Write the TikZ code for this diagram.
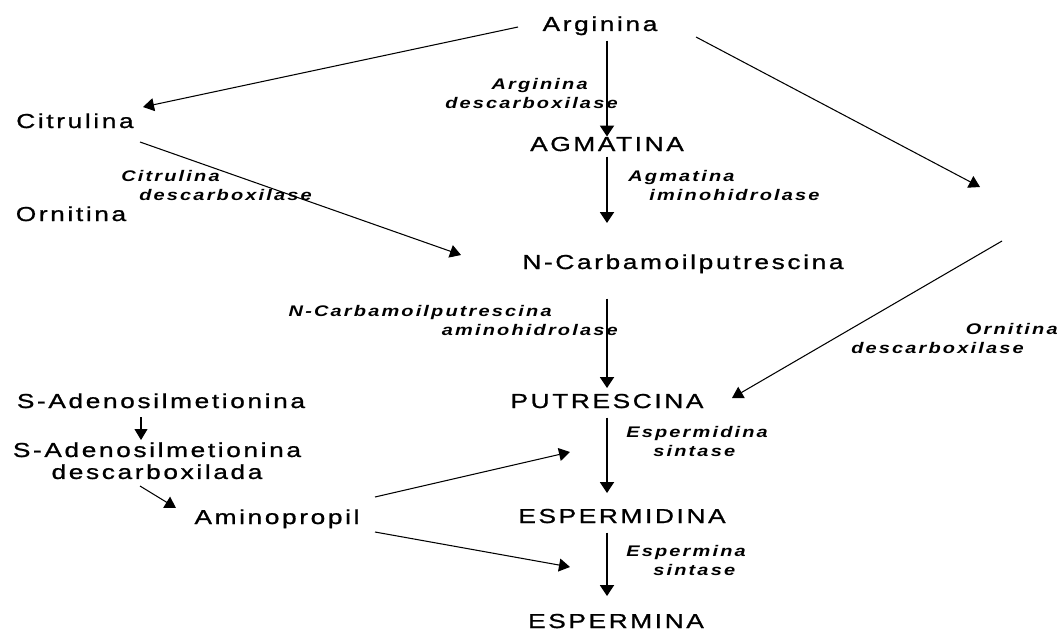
\documentclass[tikz,border=0pt]{standalone}
\usepackage{fontspec}
\usepackage{tikz}
\usetikzlibrary{arrows.meta}
\newfontfamily\metfont[FakeStretch=1.3, FakeBold=1, LetterSpace=13]{Liberation Sans}
\newfontfamily\enzfont[FakeStretch=1.3, LetterSpace=14]{Liberation Sans}
\tikzset{
  metab/.style={inner sep=0pt, anchor=base,
    font=\metfont\fontsize{11.5}{12.5}\selectfont},
  enzyme/.style={inner sep=0pt,
    font=\enzfont\bfseries\itshape\fontsize{8.75}{11}\selectfont},
  mainarrow/.style={-{Triangle[length=0.22cm,width=0.28cm]}, line width=1.1pt},
  sidearrow/.style={-{Triangle[length=0.22cm,width=0.26cm]}, line width=0.6pt}
}

\begin{document}
\begin{tikzpicture}[x=0.02cm, y=-0.02cm]

  \useasboundingbox (0,0) rectangle (1064,632);

  % ── Main column: Arginina down to Espermina ──────────────────────────────
  \node[metab] (arg)   at (600,31)  {Arginina};
  \node[metab] (agm)   at (607,151) {AGMATINA};
  \node[metab] (ncarb) at (683,269) {N-Carbamoilputrescina};
  \node[metab] (put)   at (607,408) {PUTRESCINA};
  \node[metab] (espd)  at (622,523) {ESPERMIDINA};
  \node[metab] (espm)  at (616,628) {ESPERMINA};

  % ── Left column ──────────────────────────────────────────────────────────
  \node[metab] (cit)  at (75,128)  {Citrulina};
  \node[metab] (orn)  at (71,221)  {Ornitina};
  \node[metab] (sam)  at (161,408) {S-Adenosilmetionina};
  \node[metab, anchor=north, align=center] (samd) at (157,442)
       {S-Adenosilmetionina\\descarboxilada};
  \node[metab] (amp)  at (277,524) {Aminopropil};

  % ── Enzyme labels ────────────────────────────────────────────────────────
  \node[enzyme, anchor=north east, align=right] (argdc) at (618,78)
       {Arginina\hspace*{0.6cm}\\descarboxilase};
  \node[enzyme, anchor=north west, align=left] (citdc) at (121,170)
       {Citrulina\\\hspace*{0.36cm}descarboxilase};
  \node[enzyme, anchor=north west, align=left] (agmih) at (628,170)
       {Agmatina\\\hspace*{0.42cm}iminohidrolase};
  \node[enzyme, anchor=north east, align=right] (ncarbah) at (618,305)
       {N-Carbamoilputrescina\hspace*{1.32cm}\\aminohidrolase};
  \node[enzyme, anchor=north east, align=right] (orndc) at (1058,323)
       {Ornitina\\descarboxilase\hspace*{0.68cm}};
  \node[enzyme, anchor=north west, align=left] (espdsyn) at (626,426)
       {Espermidina\\\hspace*{0.54cm}sintase};
  \node[enzyme, anchor=north west, align=left] (espmsyn) at (626,545)
       {Espermina\\\hspace*{0.54cm}sintase};

  % ── Free ends ────────────────────────────────────────────────────────────
  \coordinate (axis)    at (607,0);
  \coordinate (orntip)  at (980,187);
  \coordinate (ornfrom) at (1002,241);
  \coordinate (spdin)   at (570,452);
  \coordinate (spmin)   at (570,567);

  % ── Vertical pathway ─────────────────────────────────────────────────────
  \draw[mainarrow, shorten <=0.1cm] (arg.south -| axis) -- (agm.north -| axis);
  \draw[mainarrow, shorten <=0.1cm, shorten >=0.62cm] (agm.south -| axis) -- (ncarb.north -| axis);
  \draw[mainarrow, shorten <=0.5cm, shorten >=0.11cm] (ncarb.south -| axis) -- (put.north -| axis);
  \draw[mainarrow, shorten <=0.18cm, shorten >=0.31cm] (put.south -| axis) -- (espd.north -| axis);
  \draw[mainarrow, shorten <=0.18cm, shorten >=0.35cm] (espd.south -| axis) -- (espm.north -| axis);

  % ── Side branches ────────────────────────────────────────────────────────
  \draw[sidearrow] ([shift={(-82,-4)}]arg.base) -- ([shift={(68,-21)}]cit.base);
  \draw[sidearrow] ([shift={(96,6)}]arg.base) -- (orntip);
  \draw[sidearrow] (ornfrom) -- ([shift={(125,-10)}]put.base);
  \draw[sidearrow] ([shift={(65,14)}]cit.base) -- ([shift={(-222,-14)}]ncarb.base);

  % ── S-Adenosilmetionina branch ───────────────────────────────────────────
  \draw[sidearrow] ([shift={(-20,9)}]sam.base) -- ([shift={(-16,-2)}]samd.north);
  \draw[sidearrow] ([shift={(-17,44)}]samd.north) -- ([shift={(-101,-16)}]amp.base);
  \draw[sidearrow] ([shift={(98,-27)}]amp.base) -- (spdin);
  \draw[sidearrow] ([shift={(98,8)}]amp.base) -- (spmin);

\end{tikzpicture}
\end{document}
